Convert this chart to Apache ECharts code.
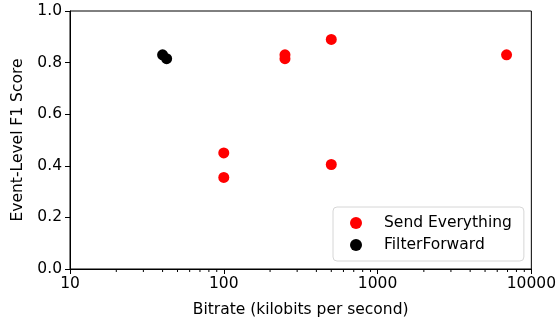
<!DOCTYPE html>
<html>
<head>
<meta charset="utf-8">
<script src="https://cdn.jsdelivr.net/npm/echarts@6/dist/echarts.min.js"></script>
<style>
html, body { margin: 0; padding: 0; background: #fff; }
#chart { width: 559px; height: 323px; }
</style>
</head>
<body>
<div id="chart"></div>
<script>
// data
var sendEverythingX = [100, 100, 250, 250, 500, 500, 6900];
var sendEverythingY = [0.45, 0.355, 0.83, 0.815, 0.89, 0.405, 0.83];
var filterForwardX = [40, 42.5];
var filterForwardY = [0.83, 0.815];
var minorTickValues = [20, 30, 40, 50, 60, 70, 80, 90,
	200, 300, 400, 500, 600, 700, 800, 900,
	2000, 3000, 4000, 5000, 6000, 7000, 8000, 9000];

var font = 'DejaVu Sans';
var fs = 15.5;

var sendData = [];
for (var i = 0; i < sendEverythingX.length; i++) {
	sendData.push([sendEverythingX[i], sendEverythingY[i]]);
}
var filterData = [];
for (var j = 0; j < filterForwardX.length; j++) {
	filterData.push([filterForwardX[j], filterForwardY[j]]);
}
var minorData = [];
for (var k = 0; k < minorTickValues.length; k++) {
	minorData.push([minorTickValues[k], 0]);
}

var chart = echarts.init(document.getElementById('chart'));
var option = {
	animation : false,
	textStyle : { fontFamily : font },
	grid : {
		left : 70,
		right : 26,
		top : 11,
		bottom : 54,
		show : true,
		borderColor : '#000',
		borderWidth : 1
	},
	legend : {
		left : 333,
		top : 207,
		orient : 'vertical',
		padding : [8, 12, 8, 17],
		itemGap : 6,
		itemWidth : 20,
		itemHeight : 12,
		borderColor : '#d6d6d6',
		borderWidth : 1,
		borderRadius : 4,
		backgroundColor : 'rgba(255,255,255,0.8)',
		data : [ 'Send Everything', 'FilterForward' ],
		textStyle : {
			fontFamily : font,
			fontSize : fs,
			color : '#000',
			lineHeight : 16,
			padding : [0, 0, 0, 13]
		}
	},
	xAxis : {
		type : 'log',
		logBase : 10,
		min : 10,
		max : 10000,
		name : 'Bitrate (kilobits per second)',
		nameLocation : 'middle',
		nameGap : 33,
		nameTextStyle : { fontFamily : font, fontSize : fs, color : '#000' },
		axisLine : { lineStyle : { color : '#000' } },
		axisTick : { length : 5, lineStyle : { color : '#000' } },
		axisLabel : {
			fontFamily : font, fontSize : fs, color : '#000', margin : 7,
			formatter : function(v) { return String(Math.round(v)); }
		},
		splitLine : { show : false }
	},
	yAxis : {
		type : 'value',
		min : 0,
		max : 1,
		interval : 0.2,
		name : 'Event-Level F1 Score',
		nameLocation : 'middle',
		nameGap : 42,
		nameTextStyle : { fontFamily : font, fontSize : fs, color : '#000' },
		axisLine : { show : true, lineStyle : { color : '#000' } },
		axisTick : { show : true, length : 5, lineStyle : { color : '#000' } },
		axisLabel : {
			fontFamily : font, fontSize : fs, color : '#000', margin : 8,
			formatter : function(v) { return v.toFixed(1); }
		},
		splitLine : { show : false }
	},
	series : [ {
		name : 'Send Everything',
		type : 'scatter',
		symbol : 'circle',
		symbolSize : 11,
		itemStyle : { color : '#ff0000', opacity : 1 },
		data : sendData
	}, {
		name : 'FilterForward',
		type : 'scatter',
		symbol : 'circle',
		symbolSize : 11,
		itemStyle : { color : '#000000', opacity : 1 },
		data : filterData
	}, {
		// minor ticks of the log axis
		type : 'custom',
		silent : true,
		clip : false,
		legendHoverLink : false,
		renderItem : function(params, api) {
			var p = api.coord([api.value(0), api.value(1)]);
			return {
				type : 'line',
				shape : { x1 : p[0], y1 : p[1], x2 : p[0], y2 : p[1] + 3 },
				style : { stroke : '#000', lineWidth : 1 }
			};
		},
		data : minorData
	} ]
};
chart.setOption(option);
</script>
</body>
</html>
